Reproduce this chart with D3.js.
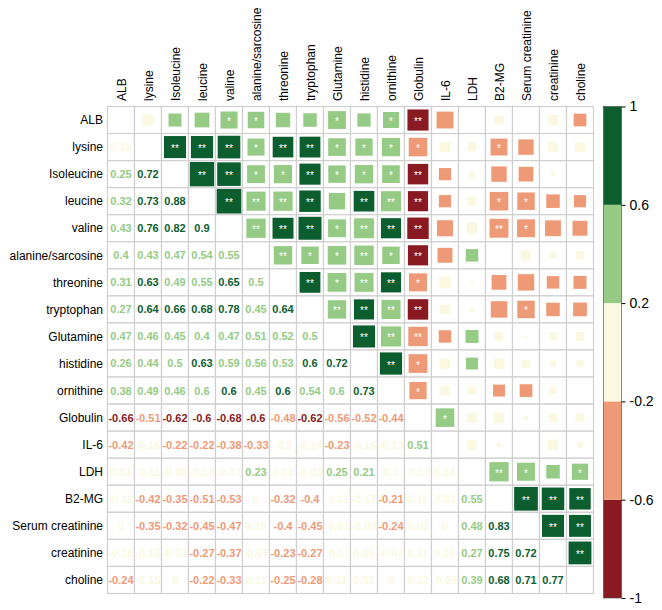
<!DOCTYPE html>
<html>
<head>
<meta charset="utf-8">
<script src="https://cdn.jsdelivr.net/npm/d3@7/dist/d3.min.js"></script>
<style>
  html, body { margin: 0; padding: 0; background: #ffffff; }
  svg { display: block; }
  text { font-family: Arial, "Liberation Sans", sans-serif; }
</style>
</head>
<body>
<svg id="chart" width="662" height="610"></svg>
<script>
// ---- data ----
const variables = ["ALB", "lysine", "Isoleucine", "leucine", "valine", "alanine/sarcosine",
  "threonine", "tryptophan", "Glutamine", "histidine", "ornithine", "Globulin", "IL-6",
  "LDH", "B2-MG", "Serum creatinine", "creatinine", "choline"];

// lower triangle of the correlation matrix: row i holds correlations with variables 0..i-1
const corrLower = [
  [],
  [0.19],
  [0.25, 0.72],
  [0.32, 0.73, 0.88],
  [0.43, 0.76, 0.82, 0.9],
  [0.4, 0.43, 0.47, 0.54, 0.55],
  [0.31, 0.63, 0.49, 0.55, 0.65, 0.5],
  [0.27, 0.64, 0.66, 0.68, 0.78, 0.45, 0.64],
  [0.47, 0.46, 0.45, 0.4, 0.47, 0.51, 0.52, 0.5],
  [0.26, 0.44, 0.5, 0.63, 0.59, 0.56, 0.53, 0.6, 0.72],
  [0.38, 0.49, 0.46, 0.598, 0.6, 0.45, 0.6, 0.54, 0.598, 0.73],
  [-0.66, -0.51, -0.62, -0.6, -0.68, -0.6, -0.48, -0.62, -0.56, -0.52, -0.44],
  [-0.42, -0.16, -0.22, -0.22, -0.38, -0.33, -0.198, -0.14, -0.23, -0.16, -0.13, 0.51],
  [0.01, -0.11, -0.06, -0.13, -0.17, 0.23, 0.01, -0.03, 0.25, 0.21, 0.1, -0.16, 0.14],
  [-0.12, -0.42, -0.35, -0.51, -0.53, 0.004, -0.32, -0.4, -0.11, -0.17, -0.21, 0.16, 0.03, 0.55],
  [0.004, -0.35, -0.32, -0.45, -0.47, 0.16, -0.4, -0.45, -0.01, -0.09, -0.24, 0.03, 0.004, 0.48, 0.83],
  [-0.16, -0.13, -0.03, -0.27, -0.37, -0.07, -0.23, -0.27, 0.1, 0.06, -0.07, 0.11, 0.16, 0.27, 0.75, 0.72],
  [-0.24, -0.15, 0.004, -0.22, -0.33, 0.11, -0.25, -0.28, 0.11, 0.07, 0.004, 0.12, -0.05, 0.39, 0.68, 0.71, 0.77]
];

// significance stars in the upper triangle: row i, characters for columns i+1..17 (0 none, 1 "*", 2 "**")
const sigUpper = [
  "00011001012000000",
  "2221221111001000",
  "221121112000000",
  "22220222001100",
  "2221222002100",
  "211212000000",
  "21221000000",
  "2222000100",
  "222000000",
  "21000000",
  "1000000",
  "100000",
  "00000",
  "2101",
  "222",
  "22",
  "2",
  ""
];

const legendBreaks = [-1, -0.6, -0.2, 0.2, 0.6, 1];
const legendTicks = ["1", "0.6", "0.2", "-0.2", "-0.6", "-1"];
const bandColors = ["#891a21", "#ef9a77", "#fbf8e1", "#95cb85", "#0c5e2f"];

// ---- build cells ----
const n = variables.length;
const cells = [];
for (let i = 0; i < n; i++) {
  for (let j = 0; j < n; j++) {
    let r = null, stars = 0;
    if (j < i) r = corrLower[i][j];
    else if (j > i) { r = corrLower[j][i]; stars = +sigUpper[i][j - i - 1]; }
    cells.push({ i, j, r, stars });
  }
}

function colorOf(v) {
  if (v <= -0.6) return bandColors[0];
  if (v <= -0.2) return bandColors[1];
  if (v < 0.2) return bandColors[2];
  if (v < 0.6) return bandColors[3];
  return bandColors[4];
}
function fmt(v) { const s = String(+v.toFixed(2)); return s === "-0" ? "0" : s; }

// ---- scales ----
const svg = d3.select("#chart");
const x = d3.scaleBand().domain(d3.range(n)).range([107.5, 593.5]);
const y = d3.scaleBand().domain(d3.range(n)).range([106.5, 593.5]);
const side = d3.scaleSqrt().domain([0, 1]).range([0, x.bandwidth() - 1]);

// grid cells
svg.append("g").selectAll("rect").data(cells).join("rect")
  .attr("x", d => x(d.j)).attr("y", d => y(d.i))
  .attr("width", x.bandwidth()).attr("height", y.bandwidth())
  .attr("fill", "#ffffff").attr("stroke", "#cfcfcf").attr("stroke-width", 1.2);

// upper triangle squares
const upper = cells.filter(d => d.j > d.i);
svg.append("g").selectAll("rect").data(upper).join("rect")
  .attr("x", d => x(d.j) + x.bandwidth() / 2 - side(Math.abs(d.r)) / 2)
  .attr("y", d => y(d.i) + y.bandwidth() / 2 - side(Math.abs(d.r)) / 2)
  .attr("width", d => side(Math.abs(d.r)))
  .attr("height", d => side(Math.abs(d.r)))
  .attr("fill", d => colorOf(d.r));

// stars
svg.append("g").selectAll("text").data(upper.filter(d => d.stars > 0)).join("text")
  .attr("x", d => x(d.j) + x.bandwidth() / 2)
  .attr("y", d => y(d.i) + y.bandwidth() / 2 + 5)
  .attr("text-anchor", "middle")
  .attr("font-size", 10)
  .attr("fill", "#ffffff")
  .text(d => "*".repeat(d.stars));

// lower triangle numbers
svg.append("g").selectAll("text").data(cells.filter(d => d.j < d.i)).join("text")
  .attr("x", d => x(d.j) + x.bandwidth() / 2)
  .attr("y", d => y(d.i) + y.bandwidth() / 2)
  .attr("dy", "0.36em")
  .attr("text-anchor", "middle")
  .attr("font-size", 11)
  .attr("font-weight", "bold")
  .attr("fill", d => colorOf(d.r))
  .text(d => fmt(d.r));

// row labels
svg.append("g").selectAll("text").data(variables).join("text")
  .attr("x", 103)
  .attr("y", (d, i) => y(i) + y.bandwidth() / 2)
  .attr("dy", "0.35em")
  .attr("text-anchor", "end")
  .attr("font-size", 12)
  .attr("fill", "#000")
  .text(d => d);

// column labels
svg.append("g").selectAll("text").data(variables).join("text")
  .attr("transform", (d, i) => `translate(${x(i) + x.bandwidth() / 2 + 4.5},101) rotate(-90)`)
  .attr("text-anchor", "start")
  .attr("font-size", 12)
  .attr("fill", "#000")
  .text(d => d);

// ---- colour legend ----
const barX = 603.5, barW = 18;
const ly = d3.scaleLinear().domain([-1, 1]).range([598, 106.5]);
const legend = svg.append("g");
legend.selectAll("rect").data(d3.range(bandColors.length)).join("rect")
  .attr("x", barX)
  .attr("y", k => ly(legendBreaks[k + 1]))
  .attr("width", barW)
  .attr("height", k => ly(legendBreaks[k]) - ly(legendBreaks[k + 1]))
  .attr("fill", k => bandColors[k]);
legend.append("rect")
  .attr("x", barX).attr("y", ly(1)).attr("width", barW).attr("height", ly(-1) - ly(1))
  .attr("fill", "none").attr("stroke", "#444").attr("stroke-width", 0.6);

const axis = d3.axisRight(ly)
  .tickValues(legendTicks.map(Number))
  .tickFormat(v => legendTicks.find(t => +t === v))
  .tickSize(4).tickSizeOuter(0).tickPadding(4);
const ag = svg.append("g").attr("transform", `translate(${barX + barW},0)`).call(axis);
ag.select(".domain").remove();
ag.selectAll("text").attr("font-size", 14).attr("font-family", "Arial, 'Liberation Sans', sans-serif").attr("fill", "#000");
ag.selectAll("line").attr("stroke", "#000");
</script>
</body>
</html>
